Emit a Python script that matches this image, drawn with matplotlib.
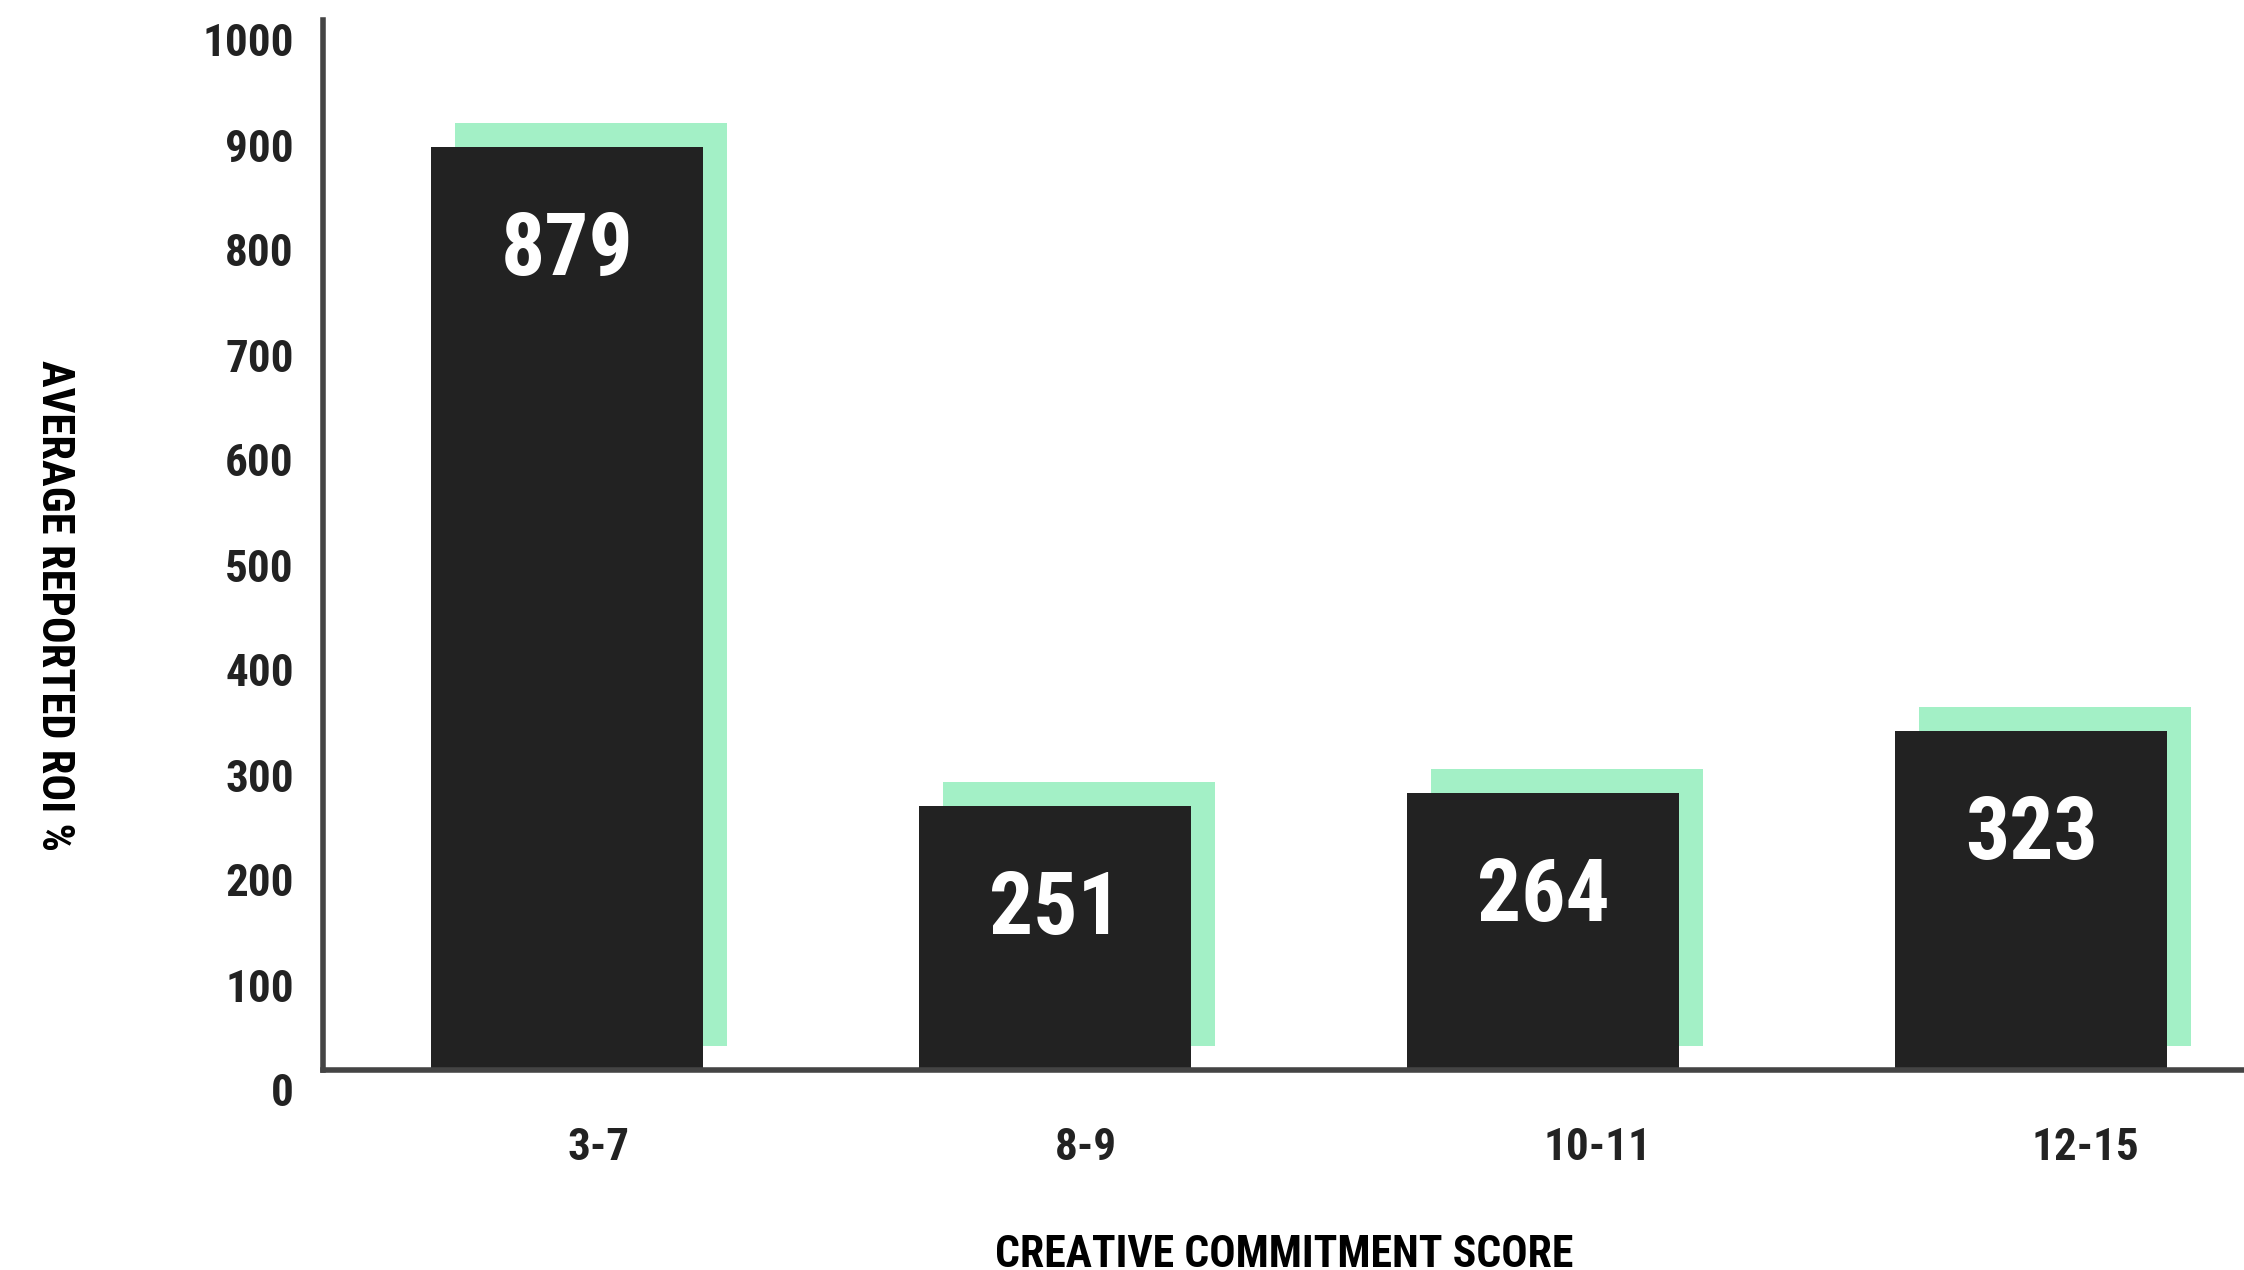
import matplotlib
matplotlib.use("Agg")
import matplotlib.pyplot as plt
from matplotlib import font_manager as fm
from matplotlib.font_manager import FontProperties
from matplotlib.transforms import ScaledTranslation, offset_copy

categories = ["3-7", "8-9", "10-11", "12-15"]
roi_values = [879, 251, 264, 323]
y_ticks = [0, 100, 200, 300, 400, 500, 600, 700, 800, 900, 1000]

# choose an installed static bold condensed face (closest to the reference's condensed grotesque)
PRIORITY = ["Roboto Condensed", "Archivo Narrow", "PT Sans Narrow",
            "IBM Plex Sans Condensed", "Open Sans Condensed", "Liberation Sans Narrow"]
FONT_FILE = None
for nm in PRIORITY:
    hits = [f for f in fm.fontManager.ttflist
            if f.name == nm and f.weight in (700, "bold") and f.style == "normal"
            and "[" not in f.fname]
    if hits:
        FONT_FILE = hits[0].fname
        break


def FP(size):
    if FONT_FILE:
        return FontProperties(fname=FONT_FILE, size=size)
    return FontProperties(family=["Roboto", "DejaVu Sans"], weight="bold", size=size)


BAR = "#222222"
SHADOW = "#A3F0C6"
AXIS = "#444444"

W, H, DPI = 2244, 1270, 100
fig = plt.figure(figsize=(W / DPI, H / DPI), dpi=DPI)
left, bottom, top = 323, 200, 20
ax = fig.add_axes([left / W, bottom / H, (W - left) / W, (H - bottom - top) / H])

x = list(range(len(categories)))
shadow_tr = offset_copy(ax.transData, fig=fig, x=24, y=24, units="dots")
ax.bar(x, roi_values, width=0.557, color=SHADOW, transform=shadow_tr, zorder=1)
ax.bar(x, roi_values, width=0.557, color=BAR, zorder=2)

for xi, v in zip(x, roi_values):
    ax.annotate(str(v), (xi, v), xytext=(0, -95), textcoords="offset pixels",
                ha="center", va="center_baseline", color="white",
                fontproperties=FP(63), zorder=3)

ax.set_xlim(-0.5, 3.436)
ax.set_ylim(0, 1000)
ax.set_yticks(y_ticks)
ax.set_yticklabels([str(t) for t in y_ticks])
ax.set_xticks(x)
ax.set_xticklabels(categories)

for s in ["top", "right"]:
    ax.spines[s].set_visible(False)
for s in ["left", "bottom"]:
    ax.spines[s].set_color(AXIS)
    ax.spines[s].set_linewidth(4.0)
    ax.spines[s].set_zorder(4)

ax.tick_params(axis="both", length=0)
ax.tick_params(axis="y", pad=21)
ax.tick_params(axis="x", pad=41)
for lab in ax.get_yticklabels():
    lab.set_fontproperties(FP(32.5))
    lab.set_color(BAR)
    lab.set_transform(lab.get_transform() + ScaledTranslation(0, -20 / DPI, fig.dpi_scale_trans))
for lab in ax.get_xticklabels():
    lab.set_fontproperties(FP(32.5))
    lab.set_color(BAR)
    lab.set_horizontalalignment("left")

fig.text(54 / W, 1 - 606 / H, "AVERAGE REPORTED ROI %", rotation=270,
         ha="center", va="center", fontproperties=FP(32), color="black")
fig.text(1284 / W, 1 - 1234 / H, "CREATIVE COMMITMENT SCORE",
         ha="center", va="top", fontproperties=FP(31.5), color="black")

fig.savefig("out.png", dpi=DPI)
